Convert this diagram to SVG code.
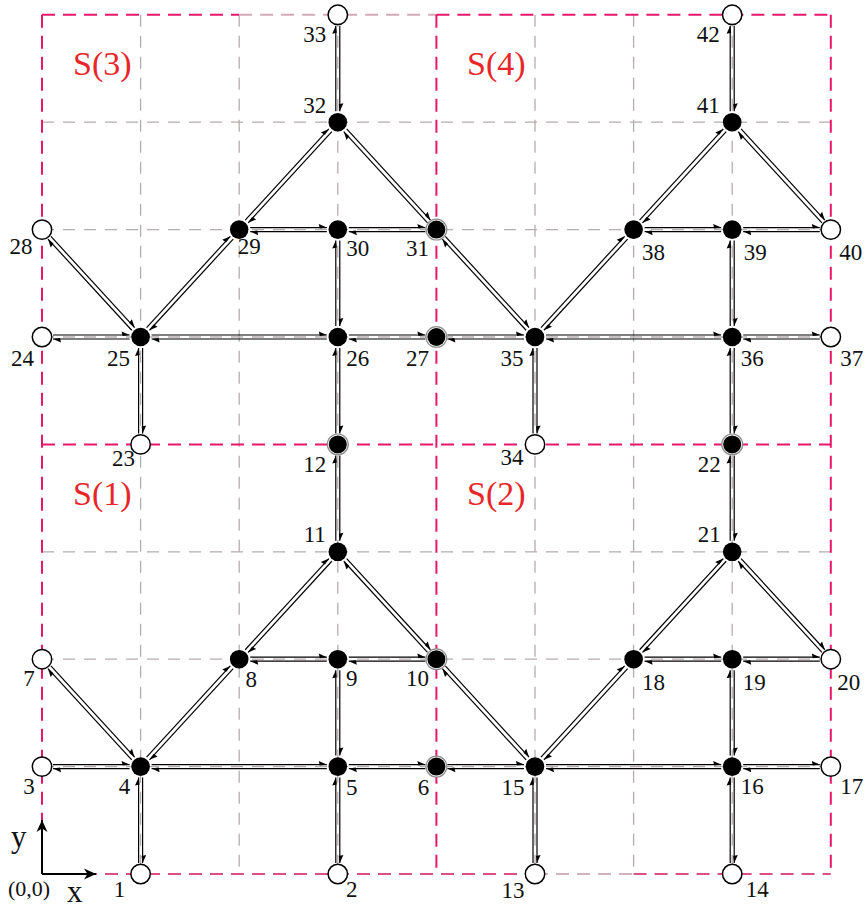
<svg xmlns="http://www.w3.org/2000/svg" width="866" height="909" viewBox="0 0 866 909">
<style>
.g{stroke:#b5adad;stroke-width:1.3;stroke-dasharray:12 9;fill:none}
.p{stroke:#e8176c;stroke-width:2;stroke-dasharray:13 8;fill:none}
.e line{stroke:#000;stroke-width:1.2;marker-end:url(#h)}
.o{fill:#fff;stroke:#000;stroke-width:1.5}
.f{fill:#000}
.rg{fill:#fff;stroke:#8c8c8c;stroke-width:1.2}
text{font-family:"Liberation Serif","Times New Roman",serif}
.l{font-size:23px;fill:#111;text-anchor:middle}
.s{font-size:34px;fill:#e8262a}
.ax{stroke:#000;stroke-width:2;fill:none;marker-end:url(#ah)}
</style>
<defs>
<marker id="h" markerUnits="userSpaceOnUse" markerWidth="12" markerHeight="12" refX="0" refY="0" orient="auto" overflow="visible" style="overflow:visible">
<path d="M0,0 L-8,-3.6 L-7,1 Z" fill="#000"/>
</marker>
<marker id="ah" markerUnits="userSpaceOnUse" markerWidth="14" markerHeight="14" refX="0" refY="0" orient="auto" overflow="visible" style="overflow:visible">
<path d="M0,0 L-12,-5.5 L-8.5,0 L-12,5.5 Z" fill="#000"/>
</marker>
</defs>
<rect width="866" height="909" fill="#fff"/>
<g id="grid">
<line class="g" x1="140.6" y1="14.8" x2="140.6" y2="874"/>
<line class="g" x1="239.2" y1="14.8" x2="239.2" y2="874"/>
<line class="g" x1="337.8" y1="14.8" x2="337.8" y2="874"/>
<line class="g" x1="535" y1="14.8" x2="535" y2="874"/>
<line class="g" x1="633.6" y1="14.8" x2="633.6" y2="874"/>
<line class="g" x1="732.2" y1="14.8" x2="732.2" y2="874"/>
<line class="g" x1="42" y1="766.6" x2="830.8" y2="766.6"/>
<line class="g" x1="42" y1="659.2" x2="830.8" y2="659.2"/>
<line class="g" x1="42" y1="551.8" x2="830.8" y2="551.8"/>
<line class="g" x1="42" y1="337" x2="830.8" y2="337"/>
<line class="g" x1="42" y1="229.6" x2="830.8" y2="229.6"/>
<line class="g" x1="42" y1="122.2" x2="830.8" y2="122.2"/>
</g>
<g id="regions">
<line class="p" x1="42" y1="14.8" x2="239.2" y2="14.8"/>
<line class="p" x1="239.2" y1="14.8" x2="436.4" y2="14.8" style="stroke:#d3a9b6"/>
<line class="p" x1="436.4" y1="14.8" x2="830.8" y2="14.8"/>
<line class="p" x1="830.8" y1="14.8" x2="830.8" y2="874"/>
<line class="p" x1="42" y1="874" x2="535" y2="874" style="stroke:#dc4f82"/>
<line class="p" x1="535" y1="874" x2="633.6" y2="874" style="stroke:#d0b3bc"/>
<line class="p" x1="633.6" y1="874" x2="830.8" y2="874" style="stroke:#dc4f82"/>
<line class="p" x1="42" y1="14.8" x2="42" y2="874"/>
<line class="p" x1="436.4" y1="14.8" x2="436.4" y2="874"/>
<line class="p" x1="42" y1="444.4" x2="830.8" y2="444.4"/>
<text class="s" x="73" y="75">S(3)</text>
<text class="s" x="467" y="75">S(4)</text>
<text class="s" x="73" y="505">S(1)</text>
<text class="s" x="467" y="505">S(2)</text>
</g>
<g id="axes">
<line class="ax" x1="42" y1="874" x2="42" y2="820"/>
<line class="ax" x1="42" y1="874" x2="96" y2="874"/>
<text x="11" y="847" font-size="31" fill="#111">y</text>
<text x="67" y="902" font-size="31" fill="#111">x</text>
<text x="8" y="896" font-size="22" fill="#111">(0,0)</text>
</g>
<g id="connectors" class="e">
<!-- horizontal -->
<g transform="translate(42,766.6)"><line x1="11" y1="-2" x2="87.6" y2="-2"/><line x1="87.6" y1="2" x2="11" y2="2"/></g>
<g transform="translate(140.6,766.6)"><line x1="11" y1="-2" x2="186.2" y2="-2"/><line x1="186.2" y1="2" x2="11" y2="2"/></g>
<g transform="translate(337.8,766.6)"><line x1="11" y1="-2" x2="87.6" y2="-2"/><line x1="87.6" y1="2" x2="11" y2="2"/></g>
<g transform="translate(436.4,766.6)"><line x1="11" y1="-2" x2="87.6" y2="-2"/><line x1="87.6" y1="2" x2="11" y2="2"/></g>
<g transform="translate(535,766.6)"><line x1="11" y1="-2" x2="186.2" y2="-2"/><line x1="186.2" y1="2" x2="11" y2="2"/></g>
<g transform="translate(732.2,766.6)"><line x1="11" y1="-2" x2="87.6" y2="-2"/><line x1="87.6" y1="2" x2="11" y2="2"/></g>
<g transform="translate(239.2,659.2)"><line x1="11" y1="-2" x2="87.6" y2="-2"/><line x1="87.6" y1="2" x2="11" y2="2"/></g>
<g transform="translate(337.8,659.2)"><line x1="11" y1="-2" x2="87.6" y2="-2"/><line x1="87.6" y1="2" x2="11" y2="2"/></g>
<g transform="translate(633.6,659.2)"><line x1="11" y1="-2" x2="87.6" y2="-2"/><line x1="87.6" y1="2" x2="11" y2="2"/></g>
<g transform="translate(732.2,659.2)"><line x1="11" y1="-2" x2="87.6" y2="-2"/><line x1="87.6" y1="2" x2="11" y2="2"/></g>
<g transform="translate(42,337)"><line x1="11" y1="-2" x2="87.6" y2="-2"/><line x1="87.6" y1="2" x2="11" y2="2"/></g>
<g transform="translate(140.6,337)"><line x1="11" y1="-2" x2="186.2" y2="-2"/><line x1="186.2" y1="2" x2="11" y2="2"/></g>
<g transform="translate(337.8,337)"><line x1="11" y1="-2" x2="87.6" y2="-2"/><line x1="87.6" y1="2" x2="11" y2="2"/></g>
<g transform="translate(436.4,337)"><line x1="11" y1="-2" x2="87.6" y2="-2"/><line x1="87.6" y1="2" x2="11" y2="2"/></g>
<g transform="translate(535,337)"><line x1="11" y1="-2" x2="186.2" y2="-2"/><line x1="186.2" y1="2" x2="11" y2="2"/></g>
<g transform="translate(732.2,337)"><line x1="11" y1="-2" x2="87.6" y2="-2"/><line x1="87.6" y1="2" x2="11" y2="2"/></g>
<g transform="translate(239.2,229.6)"><line x1="11" y1="-2" x2="87.6" y2="-2"/><line x1="87.6" y1="2" x2="11" y2="2"/></g>
<g transform="translate(337.8,229.6)"><line x1="11" y1="-2" x2="87.6" y2="-2"/><line x1="87.6" y1="2" x2="11" y2="2"/></g>
<g transform="translate(633.6,229.6)"><line x1="11" y1="-2" x2="87.6" y2="-2"/><line x1="87.6" y1="2" x2="11" y2="2"/></g>
<g transform="translate(732.2,229.6)"><line x1="11" y1="-2" x2="87.6" y2="-2"/><line x1="87.6" y1="2" x2="11" y2="2"/></g>
<!-- vertical -->
<g transform="translate(140.6,766.6) rotate(90)"><line x1="11" y1="-2" x2="96.4" y2="-2"/><line x1="96.4" y1="2" x2="11" y2="2"/></g>
<g transform="translate(337.8,766.6) rotate(90)"><line x1="11" y1="-2" x2="96.4" y2="-2"/><line x1="96.4" y1="2" x2="11" y2="2"/></g>
<g transform="translate(337.8,659.2) rotate(90)"><line x1="11" y1="-2" x2="96.4" y2="-2"/><line x1="96.4" y1="2" x2="11" y2="2"/></g>
<g transform="translate(337.8,444.4) rotate(90)"><line x1="11" y1="-2" x2="96.4" y2="-2"/><line x1="96.4" y1="2" x2="11" y2="2"/></g>
<g transform="translate(337.8,337) rotate(90)"><line x1="11" y1="-2" x2="96.4" y2="-2"/><line x1="96.4" y1="2" x2="11" y2="2"/></g>
<g transform="translate(337.8,229.6) rotate(90)"><line x1="11" y1="-2" x2="96.4" y2="-2"/><line x1="96.4" y1="2" x2="11" y2="2"/></g>
<g transform="translate(337.8,14.8) rotate(90)"><line x1="11" y1="-2" x2="96.4" y2="-2"/><line x1="96.4" y1="2" x2="11" y2="2"/></g>
<g transform="translate(535,766.6) rotate(90)"><line x1="11" y1="-2" x2="96.4" y2="-2"/><line x1="96.4" y1="2" x2="11" y2="2"/></g>
<g transform="translate(732.2,766.6) rotate(90)"><line x1="11" y1="-2" x2="96.4" y2="-2"/><line x1="96.4" y1="2" x2="11" y2="2"/></g>
<g transform="translate(732.2,659.2) rotate(90)"><line x1="11" y1="-2" x2="96.4" y2="-2"/><line x1="96.4" y1="2" x2="11" y2="2"/></g>
<g transform="translate(732.2,444.4) rotate(90)"><line x1="11" y1="-2" x2="96.4" y2="-2"/><line x1="96.4" y1="2" x2="11" y2="2"/></g>
<g transform="translate(732.2,337) rotate(90)"><line x1="11" y1="-2" x2="96.4" y2="-2"/><line x1="96.4" y1="2" x2="11" y2="2"/></g>
<g transform="translate(732.2,229.6) rotate(90)"><line x1="11" y1="-2" x2="96.4" y2="-2"/><line x1="96.4" y1="2" x2="11" y2="2"/></g>
<g transform="translate(732.2,14.8) rotate(90)"><line x1="11" y1="-2" x2="96.4" y2="-2"/><line x1="96.4" y1="2" x2="11" y2="2"/></g>
<g transform="translate(140.6,337) rotate(90)"><line x1="11" y1="-2" x2="96.4" y2="-2"/><line x1="96.4" y1="2" x2="11" y2="2"/></g>
<g transform="translate(535,337) rotate(90)"><line x1="11" y1="-2" x2="96.4" y2="-2"/><line x1="96.4" y1="2" x2="11" y2="2"/></g>
<!-- diagonal down-right -->
<g transform="translate(42,659.2) rotate(47.444)"><line x1="11" y1="-2" x2="134.8" y2="-2"/><line x1="134.8" y1="2" x2="11" y2="2"/></g>
<g transform="translate(337.8,551.8) rotate(47.444)"><line x1="11" y1="-2" x2="134.8" y2="-2"/><line x1="134.8" y1="2" x2="11" y2="2"/></g>
<g transform="translate(436.4,659.2) rotate(47.444)"><line x1="11" y1="-2" x2="134.8" y2="-2"/><line x1="134.8" y1="2" x2="11" y2="2"/></g>
<g transform="translate(732.2,551.8) rotate(47.444)"><line x1="11" y1="-2" x2="134.8" y2="-2"/><line x1="134.8" y1="2" x2="11" y2="2"/></g>
<g transform="translate(42,229.6) rotate(47.444)"><line x1="11" y1="-2" x2="134.8" y2="-2"/><line x1="134.8" y1="2" x2="11" y2="2"/></g>
<g transform="translate(337.8,122.2) rotate(47.444)"><line x1="11" y1="-2" x2="134.8" y2="-2"/><line x1="134.8" y1="2" x2="11" y2="2"/></g>
<g transform="translate(436.4,229.6) rotate(47.444)"><line x1="11" y1="-2" x2="134.8" y2="-2"/><line x1="134.8" y1="2" x2="11" y2="2"/></g>
<g transform="translate(732.2,122.2) rotate(47.444)"><line x1="11" y1="-2" x2="134.8" y2="-2"/><line x1="134.8" y1="2" x2="11" y2="2"/></g>
<!-- diagonal up-right -->
<g transform="translate(140.6,766.6) rotate(-47.444)"><line x1="11" y1="-2" x2="134.8" y2="-2"/><line x1="134.8" y1="2" x2="11" y2="2"/></g>
<g transform="translate(239.2,659.2) rotate(-47.444)"><line x1="11" y1="-2" x2="134.8" y2="-2"/><line x1="134.8" y1="2" x2="11" y2="2"/></g>
<g transform="translate(535,766.6) rotate(-47.444)"><line x1="11" y1="-2" x2="134.8" y2="-2"/><line x1="134.8" y1="2" x2="11" y2="2"/></g>
<g transform="translate(633.6,659.2) rotate(-47.444)"><line x1="11" y1="-2" x2="134.8" y2="-2"/><line x1="134.8" y1="2" x2="11" y2="2"/></g>
<g transform="translate(140.6,337) rotate(-47.444)"><line x1="11" y1="-2" x2="134.8" y2="-2"/><line x1="134.8" y1="2" x2="11" y2="2"/></g>
<g transform="translate(239.2,229.6) rotate(-47.444)"><line x1="11" y1="-2" x2="134.8" y2="-2"/><line x1="134.8" y1="2" x2="11" y2="2"/></g>
<g transform="translate(535,337) rotate(-47.444)"><line x1="11" y1="-2" x2="134.8" y2="-2"/><line x1="134.8" y1="2" x2="11" y2="2"/></g>
<g transform="translate(633.6,229.6) rotate(-47.444)"><line x1="11" y1="-2" x2="134.8" y2="-2"/><line x1="134.8" y1="2" x2="11" y2="2"/></g>
</g>
<g id="nodes">
<g id="n1"><circle class="o" cx="140.6" cy="874" r="9.7"/><text class="l" x="119.6" y="897">1</text></g>
<g id="n2"><circle class="o" cx="337.8" cy="874" r="9.7"/><text class="l" x="351.8" y="897">2</text></g>
<g id="n3"><circle class="o" cx="42" cy="766.6" r="9.7"/><text class="l" x="29" y="793.6">3</text></g>
<g id="n4"><circle class="f" cx="140.6" cy="766.6" r="9.3"/><text class="l" x="124.6" y="793.6">4</text></g>
<g id="n5"><circle class="f" cx="337.8" cy="766.6" r="9.3"/><text class="l" x="351.8" y="794.6">5</text></g>
<g id="n6"><circle class="rg" cx="436.4" cy="766.6" r="10.4"/><circle class="f" cx="436.4" cy="766.6" r="9"/><text class="l" x="423.4" y="794.6">6</text></g>
<g id="n7"><circle class="o" cx="42" cy="659.2" r="9.7"/><text class="l" x="29" y="686.2">7</text></g>
<g id="n8"><circle class="f" cx="239.2" cy="659.2" r="9.3"/><text class="l" x="251.2" y="687.2">8</text></g>
<g id="n9"><circle class="f" cx="337.8" cy="659.2" r="9.3"/><text class="l" x="351.8" y="686.2">9</text></g>
<g id="n10"><circle class="rg" cx="436.4" cy="659.2" r="10.4"/><circle class="f" cx="436.4" cy="659.2" r="9"/><text class="l" x="417.4" y="686.2">10</text></g>
<g id="n11"><circle class="f" cx="337.8" cy="551.8" r="9.3"/><text class="l" x="314.8" y="541.8">11</text></g>
<g id="n12"><circle class="rg" cx="337.8" cy="444.4" r="10.4"/><circle class="f" cx="337.8" cy="444.4" r="9"/><text class="l" x="314.8" y="472.4">12</text></g>
<g id="n13"><circle class="o" cx="535" cy="874" r="9.7"/><text class="l" x="513" y="898">13</text></g>
<g id="n14"><circle class="o" cx="732.2" cy="874" r="9.7"/><text class="l" x="757.2" y="897">14</text></g>
<g id="n15"><circle class="f" cx="535" cy="766.6" r="9.3"/><text class="l" x="513" y="794.6">15</text></g>
<g id="n16"><circle class="f" cx="732.2" cy="766.6" r="9.3"/><text class="l" x="752.2" y="793.6">16</text></g>
<g id="n17"><circle class="o" cx="830.8" cy="766.6" r="9.7"/><text class="l" x="851.8" y="793.6">17</text></g>
<g id="n18"><circle class="f" cx="633.6" cy="659.2" r="9.3"/><text class="l" x="653.6" y="690.2">18</text></g>
<g id="n19"><circle class="f" cx="732.2" cy="659.2" r="9.3"/><text class="l" x="754.2" y="690.2">19</text></g>
<g id="n20"><circle class="o" cx="830.8" cy="659.2" r="9.7"/><text class="l" x="848.8" y="690.2">20</text></g>
<g id="n21"><circle class="f" cx="732.2" cy="551.8" r="9.3"/><text class="l" x="709.2" y="541.8">21</text></g>
<g id="n22"><circle class="rg" cx="732.2" cy="444.4" r="10.4"/><circle class="f" cx="732.2" cy="444.4" r="9"/><text class="l" x="709.2" y="472.4">22</text></g>
<g id="n23"><circle class="o" cx="140.6" cy="444.4" r="9.7"/><text class="l" x="123.6" y="466.4">23</text></g>
<g id="n24"><circle class="o" cx="42" cy="337" r="9.7"/><text class="l" x="22.5" y="366">24</text></g>
<g id="n25"><circle class="f" cx="140.6" cy="337" r="9.3"/><text class="l" x="118.6" y="366">25</text></g>
<g id="n26"><circle class="f" cx="337.8" cy="337" r="9.3"/><text class="l" x="357.8" y="366">26</text></g>
<g id="n27"><circle class="rg" cx="436.4" cy="337" r="10.4"/><circle class="f" cx="436.4" cy="337" r="9"/><text class="l" x="417.4" y="366">27</text></g>
<g id="n28"><circle class="o" cx="42" cy="229.6" r="9.7"/><text class="l" x="21" y="254">28</text></g>
<g id="n29"><circle class="f" cx="239.2" cy="229.6" r="9.3"/><text class="l" x="249.2" y="254">29</text></g>
<g id="n30"><circle class="f" cx="337.8" cy="229.6" r="9.3"/><text class="l" x="357.8" y="256">30</text></g>
<g id="n31"><circle class="rg" cx="436.4" cy="229.6" r="10.4"/><circle class="f" cx="436.4" cy="229.6" r="9"/><text class="l" x="417.4" y="256">31</text></g>
<g id="n32"><circle class="f" cx="337.8" cy="122.2" r="9.3"/><text class="l" x="314.8" y="113">32</text></g>
<g id="n33"><circle class="o" cx="337.8" cy="14.8" r="9.7"/><text class="l" x="314.8" y="42">33</text></g>
<g id="n34"><circle class="o" cx="535" cy="444.4" r="9.7"/><text class="l" x="512" y="465.4">34</text></g>
<g id="n35"><circle class="f" cx="535" cy="337" r="9.3"/><text class="l" x="512" y="366">35</text></g>
<g id="n36"><circle class="f" cx="732.2" cy="337" r="9.3"/><text class="l" x="752.2" y="366">36</text></g>
<g id="n37"><circle class="o" cx="830.8" cy="337" r="9.7"/><text class="l" x="851.8" y="366">37</text></g>
<g id="n38"><circle class="f" cx="633.6" cy="229.6" r="9.3"/><text class="l" x="653.6" y="259.6">38</text></g>
<g id="n39"><circle class="f" cx="732.2" cy="229.6" r="9.3"/><text class="l" x="755.2" y="259.6">39</text></g>
<g id="n40"><circle class="o" cx="830.8" cy="229.6" r="9.7"/><text class="l" x="850.8" y="259.6">40</text></g>
<g id="n41"><circle class="f" cx="732.2" cy="122.2" r="9.3"/><text class="l" x="708.2" y="113">41</text></g>
<g id="n42"><circle class="o" cx="732.2" cy="14.8" r="9.7"/><text class="l" x="708.2" y="42">42</text></g>
</g>
</svg>
